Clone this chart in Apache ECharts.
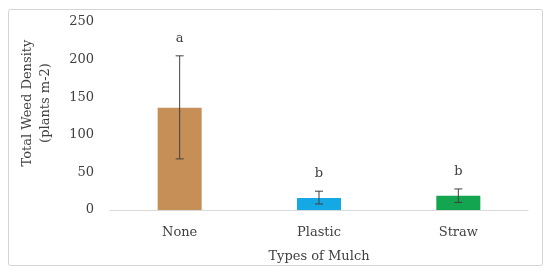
<!DOCTYPE html>
<html>
<head>
<meta charset="utf-8">
<script src="https://cdn.jsdelivr.net/npm/echarts@6/dist/echarts.min.js"></script>
<style>
  html, body { margin: 0; padding: 0; background: #fff; }
  #chart { width: 550px; height: 275px; }
</style>
</head>
<body>
<div id="chart"></div>
<script>
  // data
  var categories = ['None', 'Plastic', 'Straw'];
  var density = [136, 16, 19];
  var errLow = [68, 8, 10];
  var errHigh = [205, 25, 28];
  var letters = ['a', 'b', 'b'];
  var barColors = ['#C58F57', '#14A8E4', '#13A54F'];
  var yTicks = [0, 50, 100, 150, 200, 250];

  var font = '"DejaVu Serif", "Liberation Serif", serif';

  var chart = echarts.init(document.getElementById('chart'));

  chart.setOption({
    animation: false,
    textStyle: { fontFamily: font },
    graphic: [{
      type: 'rect',
      shape: { x: 8.5, y: 9.5, width: 534, height: 256, r: 2 },
      style: { fill: 'none', stroke: '#d4d4d4', lineWidth: 1 },
      silent: true
    }],
    grid: { left: 110, right: 22, top: 22, bottom: 65 },
    xAxis: {
      type: 'category',
      data: categories,
      name: 'Types of Mulch',
      nameLocation: 'middle',
      nameGap: 40,
      nameTextStyle: { fontFamily: font, fontSize: 13, color: '#404040' },
      axisLine: { lineStyle: { color: '#d9d9d9', width: 1 } },
      axisTick: { show: false },
      axisLabel: { fontFamily: font, fontSize: 13, color: '#404040', margin: 16 }
    },
    yAxis: {
      type: 'value',
      min: yTicks[0],
      max: yTicks[yTicks.length - 1],
      interval: 50,
      name: 'Total Weed Density\n(plants m-2)',
      nameLocation: 'middle',
      nameGap: 55,
      nameTextStyle: {
        fontFamily: font, fontSize: 13, color: '#404040', lineHeight: 18,
        padding: [0, 0, 0, 26]
      },
      axisLine: { show: false },
      axisTick: { show: false },
      splitLine: { show: false },
      axisLabel: { fontFamily: font, fontSize: 13, color: '#404040', margin: 16 }
    },
    series: [
      {
        type: 'bar',
        barWidth: 44,
        z: 2,
        data: density.map(function (v, i) {
          return { value: v, itemStyle: { color: barColors[i] } };
        })
      },
      {
        type: 'custom',
        z: 5,
        data: categories.map(function (c, i) {
          return [i, errLow[i], errHigh[i], density[i]];
        }),
        renderItem: function (params, api) {
          var i = api.value(0);
          var lo = api.coord([i, api.value(1)]);
          var hi = api.coord([i, api.value(2)]);
          var cap = 4;
          var st = { stroke: '#404040', lineWidth: 1 };
          return {
            type: 'group',
            children: [
              { type: 'line', shape: { x1: hi[0], y1: hi[1], x2: lo[0], y2: lo[1] }, style: st },
              { type: 'line', shape: { x1: hi[0] - cap, y1: hi[1], x2: hi[0] + cap, y2: hi[1] }, style: st },
              { type: 'line', shape: { x1: lo[0] - cap, y1: lo[1], x2: lo[0] + cap, y2: lo[1] }, style: st },
              {
                type: 'text',
                style: {
                  x: hi[0], y: hi[1] - 11,
                  text: letters[params.dataIndex],
                  fill: '#404040',
                  font: '13px ' + font,
                  align: 'center',
                  verticalAlign: 'bottom'
                }
              }
            ]
          };
        }
      }
    ]
  });
</script>
</body>
</html>
